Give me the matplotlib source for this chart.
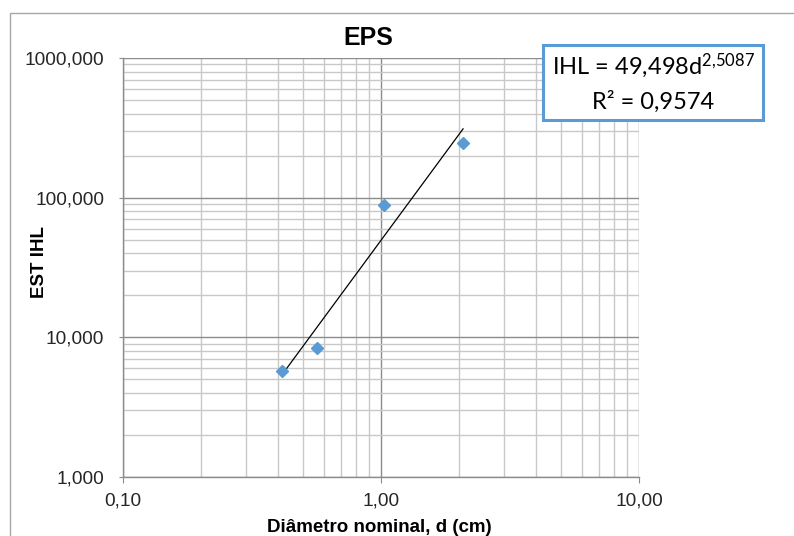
import numpy as np
import matplotlib
matplotlib.use("Agg")
import matplotlib.pyplot as plt
from matplotlib.ticker import FixedLocator, FuncFormatter, LogLocator, NullFormatter
from matplotlib.patches import Rectangle

# data
diametro = [0.413, 0.563, 1.027, 2.08]      # d (cm)
est_ihl = [5.7, 8.45, 88.5, 245.0]          # EST IHL
coef_a = 49.498                              # power trend: IHL = a * d^b
coef_b = 2.5087
r2_label = "R² = 0,9574"
x_ticks = [0.1, 1.0, 10.0]
y_ticks = [1.0, 10.0, 100.0, 1000.0]

plt.rcParams['font.family'] = ['Liberation Sans', 'DejaVu Sans']

fig = plt.figure(figsize=(7.94, 5.36), dpi=100)
ax = fig.add_axes([0.1549, 0.1101, 0.6499, 0.7817])

# outer chart border (cut off at right and bottom in the original)
fig.patches.append(Rectangle((10 / 794, -0.2), 2.0, 0.9757 + 0.2,
                             transform=fig.transFigure, fill=False,
                             edgecolor='#a6a6a6', linewidth=1.0))

ax.set_xscale('log')
ax.set_yscale('log')
ax.set_xlim(0.1, 10)
ax.set_ylim(1, 1000)

ax.xaxis.set_major_locator(FixedLocator(x_ticks))
ax.yaxis.set_major_locator(FixedLocator(y_ticks))
ax.xaxis.set_minor_locator(LogLocator(base=10, subs=np.arange(2, 10)))
ax.yaxis.set_minor_locator(LogLocator(base=10, subs=np.arange(2, 10)))
ax.xaxis.set_minor_formatter(NullFormatter())
ax.yaxis.set_minor_formatter(NullFormatter())
ax.xaxis.set_major_formatter(FuncFormatter(lambda v, p: f"{v:.2f}".replace('.', ',')))
ax.yaxis.set_major_formatter(FuncFormatter(lambda v, p: f"{v:.3f}".replace('.', ',')))

ax.grid(True, which='major', color='#8c8c8c', linewidth=1.0)
ax.grid(True, which='minor', color='#c8c8c8', linewidth=1.0)
ax.set_axisbelow(True)

for s in ['top', 'right']:
    ax.spines[s].set_visible(False)
for s in ['left', 'bottom']:
    ax.spines[s].set_color('#8c8c8c')
    ax.spines[s].set_linewidth(1.0)

ax.tick_params(which='major', color='#8c8c8c', labelsize=13.7,
               labelcolor='#262626')
ax.tick_params(axis='y', which='major', length=3, pad=10.5)
ax.tick_params(axis='x', which='major', length=4, pad=7)
ax.tick_params(which='minor', length=0)

# power trend line between the data extremes
xt = np.array([min(diametro), max(diametro)])
xt = np.exp(np.linspace(np.log(xt[0]), np.log(xt[1]), 50))
ax.plot(xt, coef_a * xt ** coef_b, color='black', linewidth=0.9, zorder=3)

ax.plot(diametro, est_ihl, linestyle='none', marker='D', markersize=6.5,
        color='#5b9bd5', zorder=4)

fig.text(368 / 794, 1 - 38 / 536, 'EPS', ha='center', va='center',
         fontsize=18, fontweight='bold')
fig.text(379 / 794, 1 - 527 / 536, 'Diâmetro nominal, d (cm)', ha='center',
         va='center', fontsize=13.5, fontweight='bold')
fig.text(40 / 794, 1 - 262 / 536, 'EST IHL', ha='center', va='center',
         rotation=90, fontsize=13.5, fontweight='bold')

# equation box
fig.patches.append(Rectangle((543 / 794, 1 - 120 / 536), 220 / 794, 75 / 536,
                             transform=fig.transFigure, facecolor='white',
                             edgecolor='#5b9bd5', linewidth=2.2, zorder=5))
eq = "IHL = 49,498d$\\mathregular{^{2{,}5087}}$"
fig.text(653 / 794, 1 - 66 / 536, eq, ha='center', va='center',
         fontsize=17, family=['Lato', 'DejaVu Sans'], zorder=6)
fig.text(653 / 794, 1 - 102 / 536, r2_label, ha='center', va='center',
         fontsize=17, family=['Lato', 'DejaVu Sans'], zorder=6)

fig.savefig('out.png', dpi=100)
